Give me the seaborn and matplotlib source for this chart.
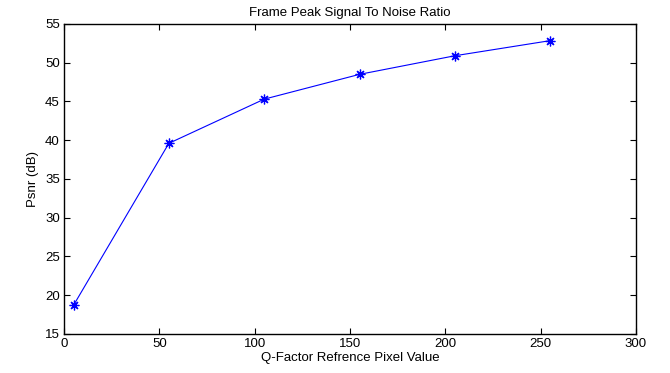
import matplotlib
matplotlib.use("Agg")
import matplotlib.pyplot as plt
import seaborn as sns
import pandas as pd

q_factor = [5, 55, 105, 155, 205, 255]
psnr_db = [18.7, 39.6, 45.3, 48.5, 50.9, 52.85]
x_ticks = [0, 50, 100, 150, 200, 250, 300]
y_ticks = [15, 20, 25, 30, 35, 40, 45, 50, 55]

sns.set_theme(style="white")
plt.rcParams['font.family'] = ['Liberation Sans', 'DejaVu Sans']
plt.rcParams['text.color'] = 'black'
plt.rcParams['axes.labelcolor'] = 'black'

df = pd.DataFrame({"q": q_factor, "psnr": psnr_db})

fig = plt.figure(figsize=(6.7, 3.73), dpi=100)
ax = fig.add_axes([0.0955, 0.1046, 0.8537, 0.8311])
sns.lineplot(data=df, x="q", y="psnr", ax=ax, color="#0000ff", linewidth=0.8,
             marker=(8, 2, 0), markersize=7, markeredgecolor="#0000ff",
             markerfacecolor="#0000ff", markeredgewidth=0.9)

ax.set_xlim(0, 300)
ax.set_ylim(15, 55)
ax.set_xticks(x_ticks)
ax.set_yticks(y_ticks)
ax.tick_params(direction="in", length=4, width=0.8, top=True, right=True,
               labelsize=9.5, colors="black", pad=3,
               bottom=True, left=True)
for s in ax.spines.values():
    s.set_color("black")
    s.set_linewidth(1.0)
ax.set_xlabel("Q-Factor Refrence Pixel Value", fontsize=9.5, labelpad=1, color="black")
ax.set_ylabel("Psnr (dB)", fontsize=9.5, labelpad=4, color="black")
ax.set_title("Frame Peak Signal To Noise Ratio", fontsize=9.5, pad=6, color="black")

fig.savefig("out.png", dpi=100, facecolor="white")
